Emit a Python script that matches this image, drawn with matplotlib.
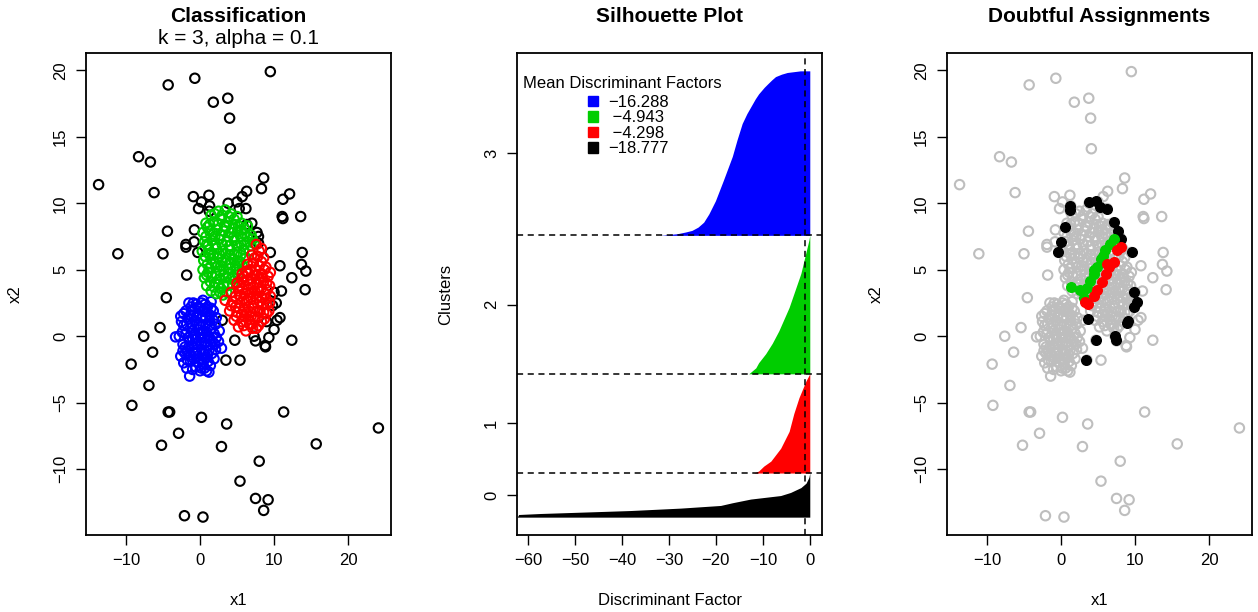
import numpy as np
import matplotlib.pyplot as plt
from matplotlib.patches import Patch

plt.rcParams['font.family'] = ['Liberation Sans', 'DejaVu Sans']
plt.rcParams['font.size'] = 12

# ---- data ----
# trimmed points (cluster 0)
trimmed = [(9.5, 19.9), (-4.3, 18.9), (-0.7, 19.4), (1.8, 17.6), (3.75, 17.9), (4.0, 16.4),
           (4.1, 14.1), (-8.3, 13.5), (-6.7, 13.1), (-13.7, 11.4), (-6.2, 10.8), (8.6, 11.9),
           (8.3, 11.1), (12.1, 10.7), (11.2, 10.3), (11.1, 9.0), (11.2, 8.85), (13.6, 9.0),
           (-0.9, 10.5), (1.2, 10.6), (0.2, 10.1), (1.3, 9.8), (-0.2, 9.6), (1.25, 9.4),
           (3.8, 10.0), (5.0, 10.1), (5.7, 10.5), (6.3, 10.9), (5.3, 9.6), (6.2, 9.6),
           (7.0, 8.5), (6.3, 8.4), (7.7, 7.8), (7.9, 7.5), (7.9, 7.0), (-4.4, 7.9),
           (-0.76, 8.0), (-1.9, 6.9), (-1.9, 6.7), (-0.8, 7.1), (-0.3, 6.3), (-11.1, 6.2),
           (-5.0, 6.2), (13.8, 6.3), (9.5, 6.3), (10.8, 5.3), (13.7, 5.4), (14.3, 4.9),
           (12.4, 4.4), (-1.8, 4.6), (14.2, 3.5), (-4.55, 2.9), (11.0, 3.4), (10.0, 3.3),
           (10.3, 2.5), (9.8, 2.3), (10.8, 1.4), (10.4, 1.2), (9.0, 1.1), (10.0, 0.5),
           (3.0, 1.2), (-5.4, 0.65), (-7.6, 0.0), (4.7, -0.3), (7.3, 0.0), (7.5, -0.35),
           (9.3, -0.1), (8.8, -0.7), (8.85, -0.8), (12.4, -0.3), (3.5, -1.8), (5.4, -1.8),
           (-6.4, -1.2), (-9.3, -2.1), (-6.9, -3.7), (-9.2, -5.2), (-4.3, -5.7), (-4.1, -5.7),
           (0.2, -6.1), (3.6, -6.6), (-2.9, -7.3), (-5.2, -8.2), (2.9, -8.3), (11.3, -5.7),
           (24.1, -6.9), (15.7, -8.1), (8.0, -9.4), (5.4, -10.9), (7.5, -12.2), (9.2, -12.3),
           (8.6, -13.1), (-2.1, -13.5), (0.4, -13.6)]

# cluster 3 (blue)
blue_pts = [(-1.5, 2.5), (0.4, 2.7), (1.5, 2.6), (-0.5, 2.4), (1.0, 2.2),
            (-1.9, 1.9), (-1.0, 2.0), (0.0, 2.1), (0.9, 1.8), (1.8, 1.9), (-0.3, 1.7), (2.2, 1.4),
            (-2.6, 1.5), (-1.6, 1.3), (-0.7, 1.2), (0.3, 1.4), (1.3, 1.2), (2.1, 0.9), (-2.2, 0.8),
            (0.8, 0.9), (-1.3, 0.6), (-0.3, 0.5), (0.5, 0.4), (1.6, 0.6), (2.6, 0.4), (-1.9, 0.2),
            (-0.8, 0.1), (1.1, 0.0), (2.2, -0.1), (-2.8, 0.0), (-3.3, -0.05), (0.1, -0.1),
            (-1.4, -0.3), (1.7, -0.4), (2.9, -0.9), (-2.3, -0.6), (-0.5, -0.6), (0.6, -0.5),
            (-1.8, -1.1), (-0.9, -1.2), (0.2, -1.0), (1.2, -1.1), (2.1, -1.0), (-2.6, -1.5),
            (-0.3, -1.5), (0.9, -1.6), (1.9, -1.7), (-2.2, -2.0), (-1.3, -1.9), (0.4, -2.1),
            (1.4, -2.2), (-0.6, -2.3), (-1.8, -2.4), (0.0, -2.6), (0.9, -2.6), (-1.4, -3.0),
            (1.2, -2.7), (-0.1, 0.9), (0.5, -1.8), (-1.0, -0.2), (1.3, 1.6), (-1.1, 0.9),
            (0.3, 0.2), (-0.4, -1.0), (1.5, -0.6), (-1.5, -0.8), (0.7, 2.4), (-0.9, 1.6),
            (0.2, -2.4), (1.0, -1.4), (-2.0, -1.3),
            (-1.2, 2.2), (-0.2, 2.2), (0.5, 1.9), (1.5, 2.1), (-2.2, 1.7), (-1.3, 1.6),
            (-0.5, 1.4), (0.8, 1.4), (1.8, 1.2), (-2.5, 1.1), (-1.8, 0.9), (-0.4, 0.9),
            (0.4, 0.8), (1.3, 0.8), (-2.4, 0.3), (-1.0, 0.4), (0.0, 0.2), (0.9, 0.3),
            (1.9, 0.2), (-1.6, -0.1), (-0.6, -0.2), (0.6, -0.1), (1.4, -0.2), (2.5, -0.4),
            (-2.0, -0.8), (-1.1, -0.7), (0.1, -0.6), (1.0, -0.7), (2.0, -0.6), (-2.3, -1.1),
            (-1.3, -1.4), (-0.5, -1.3), (0.6, -1.3), (1.6, -1.3), (-1.7, -1.8), (-0.8, -1.7),
            (0.2, -1.7), (1.1, -1.9), (-1.0, -2.5), (-0.3, -2.0), (0.6, -2.4), (-0.9, 2.5),
            (0.2, 2.5)]

# cluster 2 (green)
green_pts = [(1.5, 9.1), (2.5, 9.4), (3.4, 9.5), (4.2, 9.2), (5.0, 9.0),
             (0.8, 8.5), (1.8, 8.6), (2.9, 8.8), (3.8, 8.6), (4.7, 8.4), (5.6, 8.5), (6.4, 8.3),
             (0.4, 7.8), (1.3, 7.9), (2.3, 8.0), (3.2, 7.9), (4.2, 7.8), (5.1, 7.9), (6.0, 7.7),
             (6.9, 7.6), (0.6, 7.1), (1.6, 7.2), (2.6, 7.3), (3.6, 7.1), (4.6, 7.2), (5.5, 7.0),
             (6.4, 7.1), (7.3, 7.0), (0.3, 6.4), (1.2, 6.5), (2.2, 6.6), (3.1, 6.4), (4.1, 6.5),
             (5.0, 6.3), (5.9, 6.5), (6.7, 6.4), (0.5, 5.7), (1.5, 5.8), (2.5, 5.9), (3.5, 5.7),
             (4.5, 5.8), (5.4, 5.6), (6.2, 5.9), (0.4, 5.0), (1.3, 5.1), (2.3, 5.2), (3.2, 5.0),
             (4.1, 5.1), (5.0, 5.0), (5.7, 5.3), (0.6, 4.4), (1.6, 4.5), (2.6, 4.3), (3.5, 4.4),
             (4.4, 4.5), (5.1, 4.6), (0.9, 3.8), (1.9, 3.7), (2.8, 3.6), (3.7, 3.8), (4.4, 3.9),
             (2.2, 3.2), (3.1, 3.1), (3.6, 3.3), (1.0, 8.2), (2.0, 7.5), (3.0, 6.9), (4.0, 6.1),
             (5.0, 5.5), (1.8, 6.1), (2.8, 5.3), (3.8, 4.7), (0.9, 6.9), (2.7, 4.9), (4.6, 7.5),
             (5.6, 8.0), (3.3, 8.3), (1.1, 4.8), (2.0, 4.0),
             (2.0, 9.2), (3.0, 9.1), (3.9, 9.0), (4.6, 8.8), (1.3, 8.4), (2.4, 8.4), (3.5, 8.2),
             (4.4, 8.1), (5.2, 8.3), (6.0, 8.1), (0.8, 7.5), (1.8, 7.7), (2.8, 7.6), (3.8, 7.5),
             (5.5, 7.5), (6.4, 7.5), (7.1, 7.3), (1.1, 6.8), (2.1, 6.9), (4.0, 6.8), (5.0, 6.8),
             (6.0, 6.9), (6.9, 6.8), (0.7, 6.0), (1.2, 6.2), (2.6, 6.2), (3.5, 6.2), (4.6, 6.2),
             (5.5, 6.1), (1.0, 5.4), (2.0, 5.5), (3.0, 5.6), (4.0, 5.5), (4.8, 5.3), (0.9, 4.6),
             (2.1, 4.7), (3.2, 4.6), (4.2, 4.3), (1.4, 4.1), (2.5, 3.9), (3.2, 3.9), (1.5, 3.4),
             (2.7, 3.3)]

# cluster 1 (red)
red_pts = [(7.6, 6.9), (8.3, 6.6), (7.0, 6.1), (7.8, 6.0), (8.6, 5.9),
           (6.4, 5.4), (7.2, 5.5), (8.0, 5.3), (8.9, 5.2), (5.7, 4.7), (6.5, 4.8), (7.4, 4.6),
           (8.3, 4.7), (9.2, 4.5), (5.0, 4.0), (5.9, 4.1), (6.8, 3.9), (7.7, 4.0), (8.6, 4.1),
           (9.4, 3.8), (4.2, 3.3), (5.2, 3.4), (6.1, 3.2), (7.0, 3.3), (7.9, 3.4), (8.8, 3.2),
           (9.5, 3.0), (3.4, 2.7), (4.4, 2.6), (5.4, 2.5), (6.3, 2.7), (7.2, 2.5), (8.1, 2.6),
           (9.0, 2.4), (4.0, 1.9), (5.0, 1.8), (5.9, 2.0), (6.8, 1.8), (7.7, 1.9), (8.6, 1.8),
           (9.3, 1.9), (4.6, 1.2), (5.6, 1.1), (6.5, 1.3), (7.4, 1.2), (8.3, 1.1), (5.2, 0.7),
           (6.2, 0.4), (7.1, 0.6), (7.9, 0.8), (6.0, 4.5), (7.5, 5.0), (5.5, 3.0), (6.6, 2.2),
           (8.4, 2.9), (7.2, 3.7), (4.8, 2.2), (6.0, 1.5), (8.0, 4.3), (5.3, 3.8), (7.0, 0.9),
           (8.9, 2.8),
           (8.0, 6.4), (7.4, 5.9), (8.3, 5.6), (6.8, 5.0), (8.7, 5.0), (9.5, 4.8), (6.2, 4.9),
           (7.0, 4.3), (7.7, 4.6), (8.4, 4.4), (9.0, 4.0), (5.6, 4.3), (6.4, 4.2), (5.7, 3.6),
           (6.5, 3.5), (7.4, 3.4), (8.3, 3.6), (9.1, 3.5), (4.8, 3.0), (5.9, 2.8), (6.8, 2.9),
           (7.6, 2.9), (8.5, 2.4), (9.4, 2.5), (4.2, 2.3), (5.3, 2.1), (6.3, 1.8), (7.2, 2.1),
           (8.1, 1.9), (9.0, 1.7), (4.9, 1.5), (5.6, 1.6), (6.9, 1.5), (7.8, 1.4), (8.7, 1.3),
           (5.9, 0.8), (6.7, 0.9), (7.6, 0.6)]

# doubtful assignments
doubt_black = [(1.2, 9.8), (1.2, 9.5), (3.8, 10.1), (4.7, 10.2), (5.3, 9.7), (6.2, 9.6),
               (7.1, 8.6), (7.7, 7.9), (8.1, 7.3), (0.5, 8.2), (0.0, 7.1), (-0.4, 6.3),
               (9.6, 6.3), (9.9, 3.3), (9.8, 2.2), (10.3, 2.6), (8.9, 1.0), (9.1, 1.15),
               (3.6, 1.3), (7.3, 0.03), (7.4, -0.3), (4.7, -0.3), (3.4, -1.8)]
doubt_green = [(1.4, 3.7), (2.6, 3.45), (3.5, 3.6), (3.9, 4.15), (4.4, 4.7), (4.9, 5.2),
               (5.4, 5.8), (6.0, 6.45), (6.6, 6.9), (7.2, 7.3), (3.1, 2.9), (4.4, 5.0),
               (5.7, 6.0)]
doubt_red = [(3.2, 2.6), (3.6, 2.4), (4.4, 3.0), (4.9, 3.5), (5.5, 4.1), (6.1, 4.7),
             (6.5, 5.2), (7.1, 5.6), (7.6, 6.45), (8.1, 6.7), (6.2, 5.4)]

# silhouette: cluster sizes and sorted discriminant factors (fraction of cluster, value)
cluster_labels = ['0', '1', '2', '3']
cluster_sizes = [100, 225, 314, 373]
sil_black_frac = [0, 0.06, 0.083, 0.12, 0.15, 0.205, 0.265, 0.326, 0.41, 0.49, 0.56, 0.67, 0.77, 0.9, 1.0]
sil_black_val = [-62.3, -62.0, -57.3, -46.7, -38.2, -27.5, -19.0, -16.5, -12.6, -6.2, -4.1, -1.9, -0.8, -0.2, 0.0]
sil_red_frac = [0, 0.02, 0.07, 0.12, 0.25, 0.42, 0.60, 0.76, 0.93, 1.0]
sil_red_val = [-12.0, -10.9, -9.8, -8.3, -6.2, -4.4, -3.4, -2.3, -0.8, 0.0]
sil_green_frac = [0, 0.043, 0.08, 0.145, 0.22, 0.31, 0.48, 0.725, 0.964, 1.0]
sil_green_val = [-13.0, -11.5, -10.9, -9.4, -8.0, -6.6, -4.4, -1.9, -0.2, 0.0]
sil_blue_frac = [0, 0.005, 0.01, 0.02, 0.03, 0.05, 0.08, 0.13, 0.21, 0.335, 0.48, 0.58, 0.68,
                 0.74, 0.78, 0.83, 0.86, 0.9, 0.92, 0.945, 0.965, 0.98, 0.99, 1.0]
sil_blue_val = [-31.8, -30.0, -28.2, -26.5, -25.1, -23.8, -22.6, -21.5, -20.1, -18.4, -16.5, -15.5,
                -14.4, -13.4, -12.6, -11.6, -10.9, -9.7, -9.0, -8.1, -7.3, -6.0, -4.8, -2.0]
mean_labels = ['\u221216.288', ' \u22124.943', ' \u22124.298', '\u221218.777']
threshold = -1.1

BLUE, GREEN, RED, GRAY = '#0000FF', '#00CD00', '#FF0000', '#BEBEBE'

fig = plt.figure(figsize=(12.58, 6.12), dpi=100)
W, H = 1258, 612


def panel(x0):
    return fig.add_axes([x0 / W, (H - 535) / H, 305 / W, 482 / H])


def style(ax):
    for s in ax.spines.values():
        s.set_linewidth(1.3)
    ax.tick_params(direction='out', length=7, width=1, labelsize=12, pad=6)
    for lab in ax.get_yticklabels():
        lab.set_rotation(90)
        lab.set_va('center')


def ring(ax, pts, color):
    a = np.array(pts)
    ax.scatter(a[:, 0], a[:, 1], s=46, facecolors='none', edgecolors=color, linewidths=1.5)


def dot(ax, pts, color):
    a = np.array(pts)
    ax.scatter(a[:, 0], a[:, 1], s=48, c=color, edgecolors=color, linewidths=1.0, zorder=3)


# ---- left: classification ----
ax1 = panel(86)
ring(ax1, trimmed, 'black')
ring(ax1, blue_pts, BLUE)
ring(ax1, green_pts, GREEN)
ring(ax1, red_pts, RED)
ax1.set_xlim(-15.4, 25.8)
ax1.set_ylim(-14.95, 21.3)
ax1.set_xticks([-10, 0, 10, 20])
ax1.set_yticks([-10, -5, 0, 5, 10, 15, 20])
ax1.set_xlabel('x1', labelpad=18)
ax1.set_ylabel('x2', labelpad=22)
style(ax1)
ax1.text(0.5, 1.075, 'Classification', transform=ax1.transAxes, ha='center', va='center',
         fontsize=15, fontweight='bold')
ax1.text(0.5, 1.03, 'k = 3, alpha = 0.1', transform=ax1.transAxes, ha='center', va='center',
         fontsize=15)

# ---- middle: silhouette ----
ax2 = panel(517)
starts = np.concatenate([[0], np.cumsum(cluster_sizes)[:-1]])
profiles = [(sil_black_frac, sil_black_val, 'black'), (sil_red_frac, sil_red_val, RED),
            (sil_green_frac, sil_green_val, GREEN), (sil_blue_frac, sil_blue_val, BLUE)]
for (frac, val, col), st, n in zip(profiles, starts, cluster_sizes):
    y = st + np.array(frac) * n
    ax2.fill_betweenx(np.concatenate([[st], y, [st + n]]),
                      np.concatenate([[0], val, [0]]), 0, color=col, lw=0)
total = sum(cluster_sizes)
for b in np.cumsum(cluster_sizes)[:-1]:
    ax2.axhline(b, color='black', ls=(0, (4, 3)), lw=1.1)
ax2.axvline(threshold, color='black', ls=(0, (4, 3)), lw=1.1)
ax2.set_xlim(-62.35, 2.6)
ax2.set_ylim(-0.04 * total, 1.04 * total)
ax2.set_xticks([-60, -50, -40, -30, -20, -10, 0])
ax2.set_yticks(starts + np.array(cluster_sizes) / 2)
ax2.set_yticklabels(cluster_labels)
ax2.set_xlabel('Discriminant Factor', labelpad=18)
ax2.set_ylabel('Clusters', labelpad=22)
style(ax2)
ax2.set_title('Silhouette Plot', fontsize=15, fontweight='bold', pad=22)
ax2.text(0.02, 0.937, 'Mean Discriminant Factors', transform=ax2.transAxes,
         ha='left', va='center', fontsize=12)
handles = [Patch(color=c) for c in [BLUE, GREEN, RED, 'black']]
ax2.legend(handles, mean_labels, loc='upper left', bbox_to_anchor=(0.234, 0.913),
           frameon=False, fontsize=12, handlelength=0.6, handleheight=0.6,
           handletextpad=0.6, labelspacing=0.03, borderaxespad=0, borderpad=0)

# ---- right: doubtful assignments ----
ax3 = panel(947)
for pts in (trimmed, blue_pts, green_pts, red_pts):
    ring(ax3, pts, GRAY)
dot(ax3, doubt_black, 'black')
dot(ax3, doubt_green, GREEN)
dot(ax3, doubt_red, RED)
ax3.set_xlim(-15.4, 25.8)
ax3.set_ylim(-14.95, 21.3)
ax3.set_xticks([-10, 0, 10, 20])
ax3.set_yticks([-10, -5, 0, 5, 10, 15, 20])
ax3.set_xlabel('x1', labelpad=18)
ax3.set_ylabel('x2', labelpad=22)
style(ax3)
ax3.set_title('Doubtful Assignments', fontsize=15, fontweight='bold', pad=22)

fig.savefig('out.png', dpi=100)
